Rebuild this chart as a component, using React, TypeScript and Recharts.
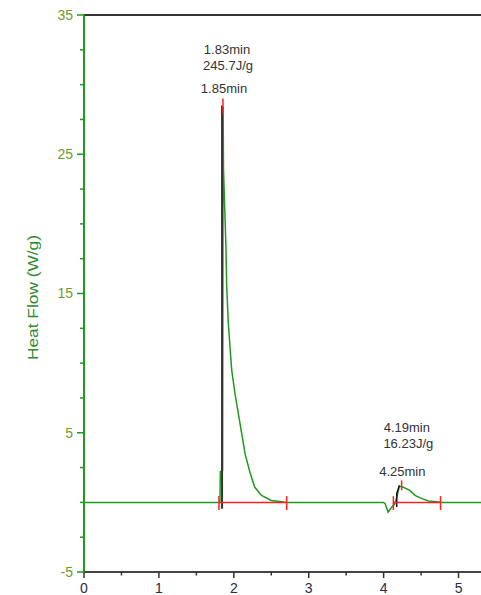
import React from 'react';
import { LineChart, Line, XAxis, YAxis, ReferenceLine, ReferenceDot } from 'recharts';

// green DSC trace
const timeMin = [0, 1.815, 1.82, 1.85, 1.857, 1.862, 1.895, 1.905, 1.927, 1.95, 1.972, 2.016, 2.06, 2.105, 2.15, 2.216, 2.28, 2.37, 2.5, 2.64, 2.7, 4.0, 4.02, 4.06, 4.11, 4.15, 4.18, 4.21, 4.25, 4.35, 4.42, 4.51, 4.6, 4.71, 4.78, 5.3];
const heatFlow = [0, 0, 2.2, 2.3, 28.4, 24.0, 18.3, 15.5, 12.85, 11.1, 9.5, 7.8, 6.4, 4.95, 3.5, 2.15, 1.08, 0.5, 0.14, 0.05, 0, 0, -0.1, -0.7, -0.33, -0.1, 0.45, 1.15, 1.12, 0.86, 0.5, 0.27, 0.1, 0.05, 0, 0];

// black onset overlays
const onset1X = [1.843, 1.843];
const onset1Y = [-0.45, 28.5];
const onset2X = [4.175, 4.175, 4.21];
const onset2Y = [-0.33, 0.63, 1.22];

// red integration limits and peak markers
const intStart = [1.802, 4.13];
const intEnd = [2.706, 4.76];
const peakTime = [1.855, 4.24];
const peakTickLow = [27.9, 0.86];
const peakTickHigh = [29.0, 1.58];

// annotation texts
const noteText = ['1.83min', '245.7J/g', '1.85min', '4.19min', '16.23J/g', '4.25min'];
const noteX = [1.909, 1.923, 1.869, 4.31, 4.33, 4.25];
const noteY = [32.55, 31.4, 29.7, 5.38, 4.22, 2.23];

const yTicks = [-5, -2.5, 0, 2.5, 5, 7.5, 10, 12.5, 15, 17.5, 20, 22.5, 25, 27.5, 30, 32.5, 35];
const yLabelTicks = [-5, 5, 15, 25, 35];
const xTicks = [0, 0.5, 1, 1.5, 2, 2.5, 3, 3.5, 4, 4.5, 5];

const GREEN = '#1f9a1f';
const RED = '#ff2020';
const FONT = '"Liberation Sans", Arial, sans-serif';

const trace = timeMin.map((x, i) => ({ x, y: heatFlow[i] }));
const onset1 = onset1X.map((x, i) => ({ x, y: onset1Y[i] }));
const onset2 = onset2X.map((x, i) => ({ x, y: onset2Y[i] }));

const YTick = (props: any) => {
  const { x, y, payload } = props;
  const major = yLabelTicks.includes(payload.value);
  return (
    <g>
      <line x1={x - (major ? 7 : 4)} x2={x} y1={y} y2={y} stroke={GREEN} strokeWidth={1.5} />
      {major && (
        <text x={x - 11} y={y} dy="0.35em" textAnchor="end" fill="#6f9a2c" fontSize={14} fontFamily={FONT}>
          {payload.value}
        </text>
      )}
    </g>
  );
};

const XTick = (props: any) => {
  const { x, y, payload } = props;
  const major = Number.isInteger(payload.value);
  return (
    <g>
      <line x1={x} x2={x} y1={y} y2={y + (major ? 6 : 3.5)} stroke="#333" strokeWidth={1.5} />
      {major && (
        <text x={x} y={y + 16} dy="0.35em" textAnchor="middle" fill="#2a2a50" fontSize={14} fontFamily={FONT}>
          {payload.value}
        </text>
      )}
    </g>
  );
};

const YTitle = (props: any) => {
  const { viewBox } = props;
  const cx = 32;
  const cy = viewBox.y + viewBox.height / 2 + 4;
  return (
    <text
      x={cx}
      y={cy}
      transform={`rotate(-90 ${cx} ${cy})`}
      textAnchor="middle"
      dominantBaseline="central"
      fill="#2e8b2e"
      fontSize={15}
      fontFamily={FONT}
      textLength={125}
      lengthAdjust="spacingAndGlyphs"
    >
      Heat Flow (W/g)
    </text>
  );
};

export default function App() {
  return (
    <div style={{ position: 'absolute', left: 0, top: 0, background: '#fff' }}>
      <LineChart width={481} height={595} margin={{ top: 15, right: 0, bottom: 0, left: 0 }} style={{ fontFamily: FONT }}>
        <XAxis
          dataKey="x"
          type="number"
          domain={[0, 5.3]}
          ticks={xTicks}
          height={23}
          tickSize={0}
          tickMargin={0}
          tickLine={false}
          tick={<XTick />}
          stroke="#444"
          axisLine={{ stroke: '#444', strokeWidth: 2 }}
          allowDataOverflow
          interval={0}
        />
        <YAxis
          type="number"
          domain={[-5, 35]}
          ticks={yTicks}
          width={84}
          tickSize={0}
          tickMargin={0}
          tickLine={false}
          tick={<YTick />}
          axisLine={{ stroke: GREEN, strokeWidth: 2 }}
          allowDataOverflow
          interval={0}
          label={{ content: <YTitle /> }}
        />
        <ReferenceLine y={35} stroke="#333" strokeWidth={2} />
        <Line data={trace} dataKey="y" stroke={GREEN} strokeWidth={1.5} dot={false} activeDot={false} isAnimationActive={false} />
        <Line data={onset1} dataKey="y" stroke="#333" strokeWidth={2} dot={false} activeDot={false} isAnimationActive={false} />
        <Line data={onset2} dataKey="y" stroke="#111" strokeWidth={1.5} dot={false} activeDot={false} isAnimationActive={false} />
        {intStart.map((s, i) => (
          <ReferenceLine key={`base-${i}`} segment={[{ x: s, y: 0 }, { x: intEnd[i], y: 0 }]} stroke={RED} strokeWidth={1.5} />
        ))}
        {intStart.map((s, i) => (
          <ReferenceLine key={`ls-${i}`} segment={[{ x: s, y: -0.55 }, { x: s, y: 0.45 }]} stroke={RED} strokeWidth={1.5} />
        ))}
        {intEnd.map((e, i) => (
          <ReferenceLine key={`le-${i}`} segment={[{ x: e, y: -0.55 }, { x: e, y: 0.45 }]} stroke={RED} strokeWidth={1.5} />
        ))}
        {peakTime.map((p, i) => (
          <ReferenceLine key={`pk-${i}`} segment={[{ x: p, y: peakTickLow[i] }, { x: p, y: peakTickHigh[i] }]} stroke={RED} strokeWidth={1.5} />
        ))}
        {noteText.map((t, i) => (
          <ReferenceDot
            key={`note-${i}`}
            x={noteX[i]}
            y={noteY[i]}
            r={1}
            fill="none"
            stroke="none"
            label={{ value: t, position: 'center', fill: '#333', fontSize: 13, fontFamily: FONT }}
          />
        ))}
      </LineChart>
    </div>
  );
}
